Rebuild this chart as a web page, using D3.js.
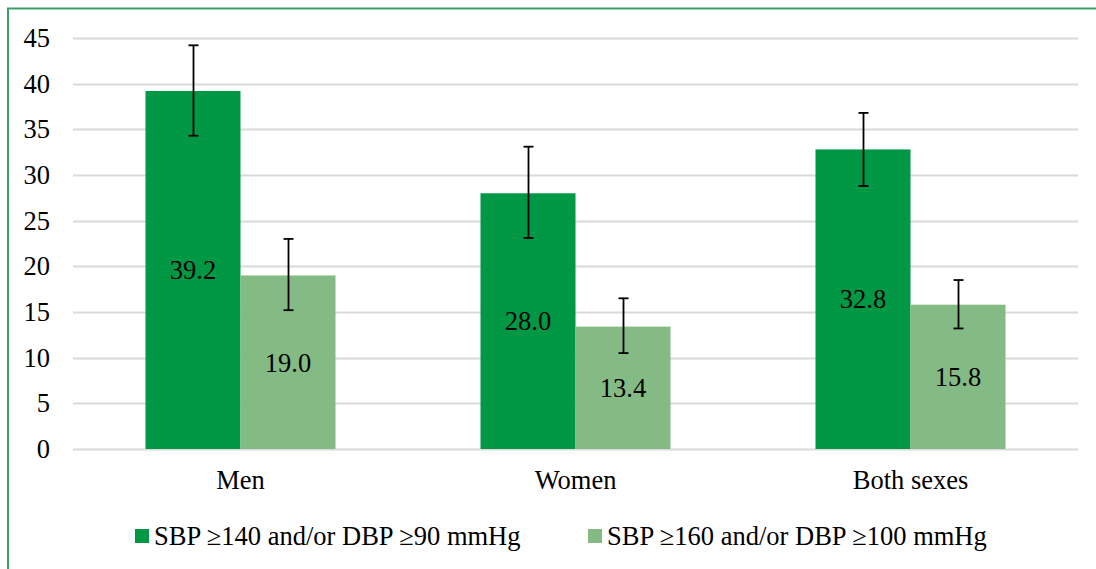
<!DOCTYPE html>
<html><head><meta charset="utf-8">
<script src="https://cdn.jsdelivr.net/npm/d3@7"></script>
<style>body{margin:0;background:#fff}svg{display:block}</style>
</head><body><svg id="c" width="1096" height="569"></svg>
<script>
const categories = ["Men", "Women", "Both sexes"];
const seriesNames = ["SBP \u2265140 and/or DBP \u226590 mmHg", "SBP \u2265160 and/or DBP \u2265100 mmHg"];
const values140 = [39.2, 28.0, 32.8];
const values160 = [19.0, 13.4, 15.8];
const low140 = [34.3, 23.1, 28.8];
const high140 = [44.2, 33.1, 36.8];
const low160 = [15.2, 10.5, 13.2];
const high160 = [23.0, 16.5, 18.5];
const yTicks = [0, 5, 10, 15, 20, 25, 30, 35, 40, 45];
const colors = ["#009845", "#84BA84"];
const FONT = "'Liberation Serif', 'Times New Roman', Times, serif";

const svg = d3.select("#c");
svg.append("path").attr("d", "M8,569 V8.5 H1096").attr("fill", "none").attr("stroke", "#3C9F6B").attr("stroke-width", 2);

const pLeft = 73, pRight = 1078, pTop = 38, pBottom = 449;
const y = d3.scaleLinear().domain([0, 45]).range([pBottom, pTop]);
const x0 = d3.scaleBand().domain(categories).range([pLeft, pRight]).paddingInner(0).paddingOuter(0);
const innerPad = (x0.bandwidth() - 190) / 2;
const x1 = d3.scaleBand().domain([0, 1]).range([innerPad, x0.bandwidth() - innerPad]);

function styleText(sel) {
  return sel.style("font-family", FONT).style("font-size", "26.5px").style("fill", "#000");
}

svg.append("g").selectAll("line").data(yTicks).join("line")
  .attr("x1", pLeft).attr("x2", pRight)
  .attr("y1", d => Math.round(y(d)) + 0.5).attr("y2", d => Math.round(y(d)) + 0.5)
  .attr("stroke", "#D9D9D9").attr("stroke-width", 2);

const yAxis = d3.axisLeft(y).tickValues(yTicks).tickSize(0).tickPadding(0);
const ya = svg.append("g").attr("transform", `translate(50,0)`).call(yAxis);
ya.select(".domain").remove();
styleText(ya.selectAll("text")).attr("text-anchor", "end").attr("x", 0).attr("dy", "0.32em");

const series = [
  {vals: values140, lo: low140, hi: high140},
  {vals: values160, lo: low160, hi: high160}
];

series.forEach((s, si) => {
  const g = svg.append("g");
  categories.forEach((c, ci) => {
    const bx = x0(c) + x1(si), bw = x1.bandwidth();
    g.append("rect").attr("x", bx).attr("y", y(s.vals[ci])).attr("width", bw)
      .attr("height", y(0) - y(s.vals[ci])).attr("fill", colors[si]);
    styleText(g.append("text")).attr("x", bx + bw / 2).attr("y", (y(0) + y(s.vals[ci])) / 2)
      .attr("dy", "0.35em").attr("text-anchor", "middle")
      .text(s.vals[ci].toFixed(1));
    const cx = Math.round(bx + bw / 2) + 0.5;
    const eb = g.append("g").attr("stroke", "#000").attr("stroke-width", 1.8);
    eb.append("line").attr("x1", cx).attr("x2", cx).attr("y1", y(s.hi[ci])).attr("y2", y(s.lo[ci]));
    eb.append("line").attr("x1", cx - 5).attr("x2", cx + 5).attr("y1", y(s.hi[ci])).attr("y2", y(s.hi[ci]));
    eb.append("line").attr("x1", cx - 5).attr("x2", cx + 5).attr("y1", y(s.lo[ci])).attr("y2", y(s.lo[ci]));
  });
});

const xAxis = d3.axisBottom(x0).tickSize(0).tickPadding(0);
const xa = svg.append("g").attr("transform", `translate(0,480)`).call(xAxis);
xa.select(".domain").remove();
styleText(xa.selectAll("text")).attr("y", 0).attr("dy", "0.35em");

const lg = svg.append("g");
seriesNames.forEach((n, i) => {
  const gx = i === 0 ? 135 : 588;
  lg.append("rect").attr("x", gx).attr("y", 529).attr("width", 14).attr("height", 14).attr("fill", colors[i]);
  styleText(lg.append("text")).attr("x", gx + 19).attr("y", 536).attr("dy", "0.35em").text(n);
});
</script></body></html>
